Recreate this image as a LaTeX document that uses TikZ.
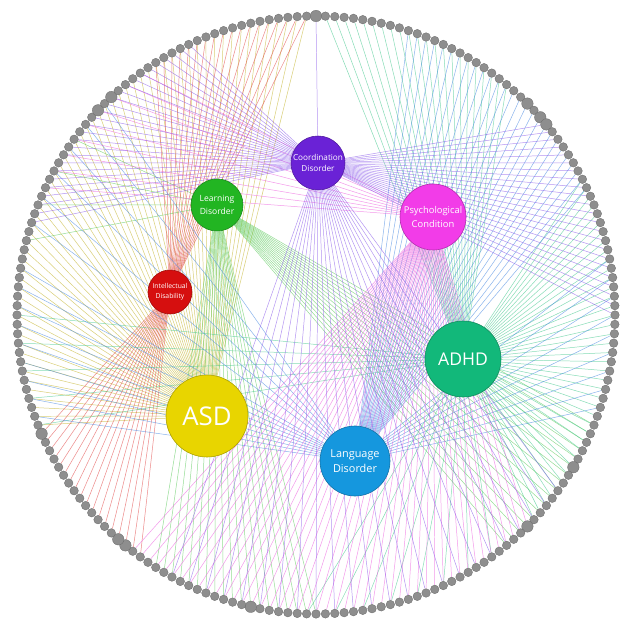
\documentclass[tikz,border=0pt]{standalone}
\usepackage{fontspec}
\setmainfont{Open Sans}
\pgfdeclarelayer{edges}
\pgfsetlayers{edges,main}
\definecolor{dotgray}{HTML}{8E8E8E}
\definecolor{dotedge}{HTML}{6E6E6E}
\definecolor{cdC}{HTML}{6A22D6}
\definecolor{psC}{HTML}{F23CE8}
\definecolor{ldC}{HTML}{22B522}
\definecolor{idC}{HTML}{D60F0F}
\definecolor{asdC}{HTML}{E8D500}
\definecolor{adC}{HTML}{12B87A}
\definecolor{lgC}{HTML}{1597DE}
\definecolor{cdE}{HTML}{8C5CEB}
\definecolor{psE}{HTML}{EE62E0}
\definecolor{ldE}{HTML}{5CCB5C}
\definecolor{idE}{HTML}{E34848}
\definecolor{asdE}{HTML}{D2C65E}
\definecolor{adE}{HTML}{45C98F}
\definecolor{lgE}{HTML}{4A8BE3}
\begin{document}
\begin{tikzpicture}[x=0.03cm,y=-0.03cm]
\tikzset{
  dot/.style={circle,fill=dotgray,draw=dotedge,line width=0.3pt,inner sep=0pt},
  hub/.style={circle,inner sep=0pt,text=white,align=center,draw=#1!75!black,fill=#1,line width=0.5pt},
  edge/.style={draw=#1,line width=0.42pt,opacity=0.65},
}
\useasboundingbox (0,0) rectangle (626,623);
% perimeter dots
\foreach \i in {0,...,199}{
  \pgfmathsetmacro\s{(\i==0||\i==25||\i==27||\i==28||\i==67||\i==75||\i==107||\i==122||\i==123||\i==137||\i==174||\i==176)?11.5:8.6}
  \node[dot,minimum size=\s*0.03cm] (d\i) at ({316+299*cos(-90+1.8*\i)},{315+299*sin(-90+1.8*\i)}) {};
}
% hubs
\node[hub=cdC,minimum size=1.62cm,font=\fontsize{7}{9}\selectfont] (cd) at (318,163) {Coordination\\Disorder};
\node[hub=psC,minimum size=1.98cm,font=\fontsize{8}{11.3}\selectfont] (pc) at (433,217) {Psychological\\Condition};
\node[hub=ldC,minimum size=1.56cm,font=\fontsize{7.3}{10.5}\selectfont] (ld) at (217,205) {Learning\\Disorder};
\node[hub=idC,minimum size=1.32cm,font=\fontsize{5.8}{8.5}\selectfont] (id) at (170,292) {Intellectual\\Disability};
\node[hub=asdC,minimum size=2.46cm,font=\fontsize{22}{26}\selectfont] (asd) at (207,416) {ASD};
\node[hub=adC,minimum size=2.28cm,font=\fontsize{15}{18}\selectfont] (adhd) at (463,359) {ADHD};
\node[hub=lgC,minimum size=2.1cm,font=\fontsize{9.3}{12.7}\selectfont] (lg) at (355,461) {Language\\Disorder};
% connectors
\begin{pgfonlayer}{edges}
\fill[white] (0,0) rectangle (626,623);
\foreach \i in {138,...,199} \draw[edge=asdE,opacity=0.85] (asd) -- (d\i);
\foreach \i in {182,...,199,120,121,...,137} \draw[edge=idE] (id) -- (d\i);
\foreach \i in {100,...,118,62,63,...,78,158,162,166,170} \draw[edge=ldE] (ld) -- (d\i);
\foreach \i in {1,...,22,35,36,...,74,80,83,...,101,138,141,...,150} \draw[edge=adE] (adhd) -- (d\i);
\foreach \i in {10,...,36,44,46,...,60,139,141,...,155,160,163,...,175} \draw[edge=lgE] (lg) -- (d\i);
\foreach \i in {75,...,121,164,166,...,180} \draw[edge=psE] (pc) -- (d\i);
\foreach \i in {0,28,29,...,50,160,161,...,186,70,72,...,116} \draw[edge=cdE] (cd) -- (d\i);
\end{pgfonlayer}
\end{tikzpicture}
\end{document}
